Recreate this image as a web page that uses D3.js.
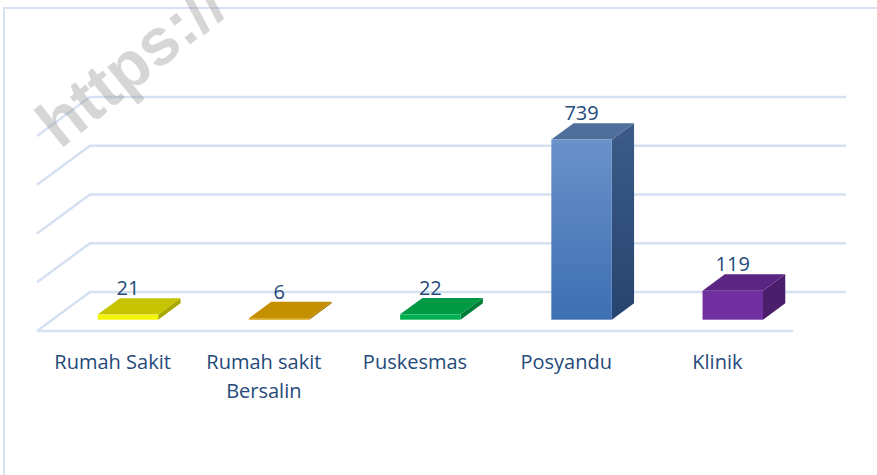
<!DOCTYPE html>
<html>
<head>
<meta charset="utf-8">
<script src="https://cdn.jsdelivr.net/npm/d3@7"></script>
<style>
  html, body { margin: 0; padding: 0; background: #ffffff; }
  svg { display: block; }
</style>
</head>
<body>
<svg id="chart" width="877" height="475"></svg>
<script>
const categories = [["Rumah Sakit"], ["Rumah sakit", "Bersalin"], ["Puskesmas"], ["Posyandu"], ["Klinik"]];
const values = [21, 6, 22, 739, 119];
const frontColors = ["#f5f500", "#d99a00", "#00b050", "#4a7cc0", "#7030a0"];
const topColors = ["#c6c300", "#c49000", "#009a44", "#4f6e9c", "#5a2583"];
const sideColors = ["#a9a700", "#a37800", "#007d36", "#2e4b75", "#4a1e6c"];
const tickValues = [0, 200, 400, 600, 800];

const svg = d3.select("#chart");
const W = 877, H = 475;

// geometry of the 3D box
const backLeft = 90, backRight = 846;
const depthDX = -53, depthDY = 39;      // offset from back wall to front of floor
const depthFront = 0.71, depthBack = 0.29;

const x = d3.scaleBand().domain(d3.range(values.length)).range([backLeft, backRight]).paddingInner(0).paddingOuter(0);
const y = d3.scaleLinear().domain([0, 800]).range([292, 97]);
const barW = x.bandwidth() * 0.4;

// defs: gradient for blue bar
const defs = svg.append("defs");
const g1 = defs.append("linearGradient").attr("id", "blueFront").attr("x1", 0).attr("y1", 0).attr("x2", 0).attr("y2", 1);
g1.append("stop").attr("offset", "0%").attr("stop-color", "#6a91c9");
g1.append("stop").attr("offset", "100%").attr("stop-color", "#3d6fb3");
const g2 = defs.append("linearGradient").attr("id", "blueSide").attr("x1", 0).attr("y1", 0).attr("x2", 0).attr("y2", 1);
g2.append("stop").attr("offset", "0%").attr("stop-color", "#3c5b88");
g2.append("stop").attr("offset", "100%").attr("stop-color", "#26446e");

// outer border
svg.append("rect").attr("x", 4).attr("y", 8).attr("width", W + 10).attr("height", H + 10)
  .attr("fill", "none").attr("stroke", "#d6e2f1").attr("stroke-width", 2);

const grid = svg.append("g").attr("stroke", "#d5e1f1").attr("stroke-width", 2.5).attr("fill", "none");
// back wall gridlines + side wall diagonals
tickValues.forEach(t => {
  const yy = y(t);
  grid.append("path").attr("d", `M${backLeft + depthDX},${yy + depthDY}L${backLeft},${yy}L${backRight},${yy}`);
});
// floor front edge
grid.append("path").attr("d", `M${backLeft + depthDX},${y(0) + depthDY}L${backRight + depthDX},${y(0) + depthDY}`);

// bars
const bars = svg.append("g");
values.forEach((v, i) => {
  const cx = x(i) + x.bandwidth() / 2;
  const fx = cx - barW / 2 + depthDX * depthFront;  // front face left
  const fy0 = y(0) + depthDY * depthFront;           // front face bottom
  const h = y(0) - y(v);
  const fy1 = fy0 - h;                                // front face top
  const ddx = depthDX * (depthBack - depthFront);     // shift toward back (right)
  const ddy = depthDY * (depthBack - depthFront);     // shift toward back (up)
  const isBlue = i === 3;
  // side face
  bars.append("path")
    .attr("d", `M${fx + barW},${fy1}L${fx + barW + ddx},${fy1 + ddy}L${fx + barW + ddx},${fy0 + ddy}L${fx + barW},${fy0}Z`)
    .attr("fill", isBlue ? "url(#blueSide)" : sideColors[i]);
  // top face
  bars.append("path")
    .attr("d", `M${fx},${fy1}L${fx + ddx},${fy1 + ddy}L${fx + barW + ddx},${fy1 + ddy}L${fx + barW},${fy1}Z`)
    .attr("fill", topColors[i]);
  // front face
  bars.append("rect")
    .attr("x", fx).attr("y", fy1).attr("width", barW).attr("height", Math.max(h, 0.5))
    .attr("fill", isBlue ? "url(#blueFront)" : frontColors[i]);
  // value label
  svg.append("text")
    .attr("x", fx + barW / 2).attr("y", fy1 + ddy - 3)
    .attr("text-anchor", "middle")
    .attr("font-family", "'Open Sans', sans-serif")
    .attr("font-size", 20)
    .attr("fill", "#254a7a")
    .text(v);
});

// category labels
categories.forEach((lines, i) => {
  const cx = x(i) + x.bandwidth() / 2 + depthDX;
  const t = svg.append("text")
    .attr("text-anchor", "middle")
    .attr("font-family", "'Open Sans', sans-serif")
    .attr("font-size", 20)
    .attr("fill", "#254a7a");
  lines.forEach((ln, j) => {
    t.append("tspan").attr("x", cx).attr("y", 369 + j * 29).text(ln);
  });
});

// watermark
svg.append("text")
  .attr("transform", "translate(60,150) rotate(-39)")
  .attr("font-family", "'Liberation Sans', Arial, sans-serif")
  .attr("font-weight", "bold")
  .attr("font-size", 66)
  .attr("fill", "rgba(140,140,140,0.36)")
  .text("https://");
</script>
</body>
</html>
